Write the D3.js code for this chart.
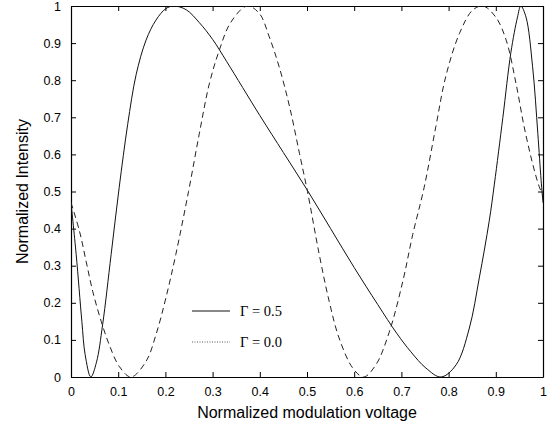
<!DOCTYPE html>
<html>
<head>
<meta charset="utf-8">
<script src="https://cdn.jsdelivr.net/npm/d3@7"></script>
<style>
  body { margin: 0; background: #fff; }
  svg { display: block; }
  .tick text { font-family: "Liberation Sans", Arial, sans-serif; font-size: 12.5px; fill: #000; }
</style>
</head>
<body>
<svg id="chart" width="556" height="432"></svg>
<script>
// values (normalized voltage, normalized intensity)
var solidX = [0, 0.011, 0.023, 0.030, 0.042, 0.054, 0.067, 0.085, 0.102, 0.120, 0.138, 0.159, 0.180, 0.201, 0.218, 0.244, 0.272, 0.300, 0.330, 0.400, 0.450, 0.500, 0.550, 0.600, 0.650, 0.690, 0.720, 0.752, 0.784, 0.816, 0.844, 0.865, 0.886, 0.897, 0.915, 0.932, 0.946, 0.953, 0.964, 0.978, 0.989, 0.996, 1];
var solidY = [0.47, 0.33, 0.15, 0.06, 0, 0.04, 0.141, 0.33, 0.51, 0.68, 0.815, 0.908, 0.962, 0.993, 1.0, 0.99, 0.955, 0.91, 0.85, 0.705, 0.605, 0.505, 0.40, 0.295, 0.195, 0.118, 0.068, 0.024, 0, 0.033, 0.132, 0.267, 0.42, 0.52, 0.70, 0.875, 0.97, 1.0, 0.97, 0.836, 0.657, 0.53, 0.47];

var dashedX = [0, 0.018, 0.032, 0.046, 0.064, 0.081, 0.102, 0.127, 0.159, 0.180, 0.201, 0.222, 0.249, 0.272, 0.293, 0.314, 0.338, 0.373, 0.399, 0.420, 0.441, 0.463, 0.484, 0.501, 0.526, 0.547, 0.568, 0.597, 0.620, 0.646, 0.674, 0.703, 0.724, 0.748, 0.773, 0.794, 0.823, 0.851, 0.873, 0.900, 0.922, 0.943, 0.960, 0.978, 0.992, 1];
var dashedY = [0.47, 0.393, 0.312, 0.231, 0.15, 0.087, 0.029, 0, 0.042, 0.114, 0.213, 0.33, 0.5, 0.657, 0.79, 0.88, 0.955, 1.0, 0.98, 0.917, 0.836, 0.729, 0.603, 0.5, 0.33, 0.204, 0.105, 0.024, 0, 0.033, 0.12, 0.258, 0.384, 0.51, 0.675, 0.81, 0.926, 0.989, 1.0, 0.97, 0.908, 0.79, 0.675, 0.575, 0.513, 0.49];

var xTicks = [0, 0.1, 0.2, 0.3, 0.4, 0.5, 0.6, 0.7, 0.8, 0.9, 1];
var yTicks = [0, 0.1, 0.2, 0.3, 0.4, 0.5, 0.6, 0.7, 0.8, 0.9, 1];
var legendLabels = ["\u0393 = 0.5", "\u0393 = 0.0"];

var svg = d3.select("#chart");
var padding = {top: 6, right: 13, bottom: 55, left: 71};
var chartArea = {
    "width": 556 - padding.left - padding.right,
    "height": 432 - padding.top - padding.bottom
};

var xScale = d3.scaleLinear().domain([0, 1]).range([0, chartArea.width]);
var yScale = d3.scaleLinear().domain([0, 1]).range([chartArea.height, 0]);

var g = svg.append("g")
    .attr("transform", "translate(" + padding.left + "," + padding.top + ")");

g.append("clipPath").attr("id", "plotclip")
    .append("rect")
    .attr("width", chartArea.width)
    .attr("height", chartArea.height);

// axes, ticks pointing inward on all four sides
var fmt = d3.format("");
g.append("g")
    .attr("transform", "translate(0," + chartArea.height + ")")
    .call(d3.axisBottom(xScale).tickValues(xTicks).tickSizeInner(-5).tickSizeOuter(0).tickPadding(10).tickFormat(fmt));
g.append("g")
    .call(d3.axisLeft(yScale).tickValues(yTicks).tickSizeInner(-5).tickSizeOuter(0).tickPadding(10).tickFormat(fmt));
g.append("g")
    .call(d3.axisTop(xScale).tickValues(xTicks).tickSizeInner(-5).tickSizeOuter(0).tickFormat(""));
g.append("g")
    .attr("transform", "translate(" + chartArea.width + ",0)")
    .call(d3.axisRight(yScale).tickValues(yTicks).tickSizeInner(-5).tickSizeOuter(0).tickFormat(""));

svg.selectAll(".domain").attr("stroke", "#000").attr("stroke-width", 1.2);
svg.selectAll(".tick line").attr("stroke", "#000");

// curves
var line = d3.line()
    .x(function(d) { return xScale(d[0]); })
    .y(function(d) { return yScale(d[1]); })
    .curve(d3.curveCatmullRom.alpha(0.5));

var solidData = solidX.map(function(v, i) { return [v, solidY[i]]; });
var dashedData = dashedX.map(function(v, i) { return [v, dashedY[i]]; });

var curves = g.append("g").attr("clip-path", "url(#plotclip)");
curves.append("path")
    .datum(solidData)
    .attr("d", line)
    .attr("fill", "none")
    .attr("stroke", "#111")
    .attr("stroke-width", 1);
curves.append("path")
    .datum(dashedData)
    .attr("d", line)
    .attr("fill", "none")
    .attr("stroke", "#222")
    .attr("stroke-width", 1)
    .attr("stroke-dasharray", "6,4");

// legend
var legend = svg.append("g");
var legendStyles = ["none", "1,1.5"];
legendLabels.forEach(function(lbl, i) {
    var y = 311 + i * 31;
    legend.append("line")
        .attr("x1", 192).attr("x2", 230)
        .attr("y1", y).attr("y2", y)
        .attr("stroke", i === 0 ? "#111" : "#555")
        .attr("stroke-width", 1)
        .attr("stroke-dasharray", legendStyles[i]);
    legend.append("text")
        .attr("x", 240)
        .attr("y", y + 5)
        .attr("font-family", "'Liberation Serif', 'Times New Roman', serif")
        .attr("font-size", 14.5)
        .text(lbl);
});

// axis titles
svg.append("text")
    .attr("x", padding.left + chartArea.width / 2)
    .attr("y", 418)
    .attr("text-anchor", "middle")
    .attr("font-family", "'Liberation Sans', Arial, sans-serif")
    .attr("font-size", 16)
    .text("Normalized modulation voltage");

svg.append("text")
    .attr("transform", "translate(28," + (padding.top + chartArea.height / 2) + ") rotate(-90)")
    .attr("text-anchor", "middle")
    .attr("font-family", "'Liberation Sans', Arial, sans-serif")
    .attr("font-size", 16)
    .text("Normalized Intensity");
</script>
</body>
</html>
